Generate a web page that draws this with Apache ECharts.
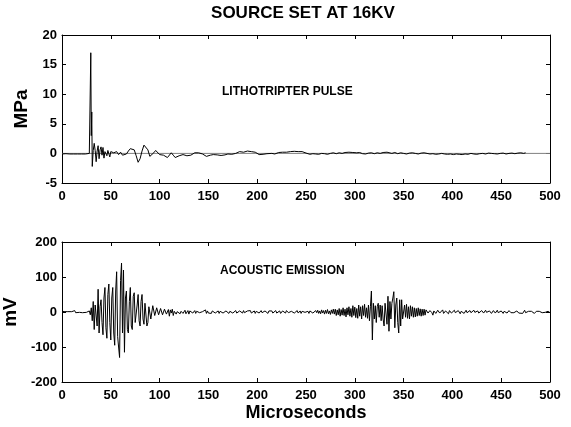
<!DOCTYPE html>
<html>
<head>
<meta charset="utf-8">
<script src="https://cdn.jsdelivr.net/npm/echarts@6/dist/echarts.min.js"></script>
<style>
  html, body { margin: 0; padding: 0; background: #fff; }
  #chart { width: 571px; height: 427px; }
</style>
</head>
<body>
<div id="chart"></div>
<script>
// lithotripter pulse, [microseconds, MPa]
var pulseQuiet = [[0,-0.1],[2,-0.1],[4,-0.05],[6,-0.1],[8,-0.1],[10,-0.05],[12,-0.1],[14,-0.1],[16,-0.1],[18,-0.05],[20,-0.1],[22,-0.1],[24,-0.1],[26,-0.05],[28,0]];
var pulseShock = [[29,0.3],[29.5,17],[30,3],[30.5,7],[31,-2.2],[32,0.5],[33,1.7],[34,0.5],[35,-1.4],[36,0.4],[37,1.3],[38,-0.9],[39,0.6],[40,1.1],
  [41,-0.3],[42,1.0],[43,-0.8],[44,0.3],[45,0.6],[46,-0.4],[47,0.5],[48,0.2],[49,-0.6],[50,0.3]];
var pulseRing = [[52,0.4],[53,0.1],[54,-0.1],[55,0.2],[56,0.3],[57,0],[58,-0.2],[60,0.2],[62,-0.3],[64,-0.5],[66,-0.1],[68,0.4],[70,0.8],[72,1.0],[74,0.6],[76,-0.4],[78,-1.5],
  [80,-0.9],[82,0.4],[84,1.4],[86,1.6],[88,0.6],[90,-0.5],[92,-0.6],[94,0.1],[96,0.5],[98,0.3],[100,-0.2],[102,-0.4],[104,-0.3],[106,-0.2],[108,-0.7],
  [110,-0.4],[112,0.1],[113,0.2],[114,-0.3],[116,-0.7],[118,-0.6],[120,-0.4],[122,-0.3],[124,-0.2],[126,-0.3],[128,-0.4],[130,-0.6],[132,-0.3],[134,0.0],
  [136,0.1],[137,-0.1],[138,0.0],[140,0.1],[142,0.0],[144,-0.1],[146,-0.3],[148,-0.5],[150,-0.4],[152,-0.3]];
var pulseTail = [[155,-0.2],[157,-0.35],[159,-0.25],[161,-0.2],[163,-0.35],[165,-0.2],[167,-0.25],[170,-0.1],[172,-0.25],[174,-0.15],[176,-0.1],[178,0],[180,0.15],[182,0.3],[184,0.05],[186,0.2],[188,0.1],
  [190,0.4],[192,0.15],[194,0.3],[196,0.1],[198,0.2],[200,-0.1],[202,-0.2],[204,-0.05],[206,-0.15],[208,-0.2],[210,-0.05],[212,-0.15],[215,0],[218,-0.1],[220,0.05],[222,0.15],[224,0.05],[226,0.2],[228,0.1],[230,0.2],
  [232,0.15],[234,0.3],[236,0.2],[238,0.35],[240,0.25],[242,0.3],[244,0.15],[246,0.3],[248,0.1],[251,0],[254,-0.15],[257,-0.05],[260,-0.1],[263,-0.15],[266,0],[269,-0.05],[272,-0.15],[275,0],
  [278,0.1],[281,-0.05],[284,0.1],[287,0],[290,0.15],[292,0.05],[294,0.2],[296,0],[298,0.15],[300,0],[302,0.1],[305,0.15],[308,-0.05],[311,-0.1],[314,0.05],[317,0.1],[320,-0.05],[323,0.1],
  [326,0],[329,0.15],[331,0.05],[333,0.2],[335,0.05],[338,0],[341,0.15],[344,-0.05],[347,0.1],[350,0],[353,-0.1],[356,0.05],[359,0.1],[362,0],[365,-0.1],[368,0.05],[371,0.1],
  [374,0],[377,-0.1],[380,-0.05],[383,-0.15],[386,-0.1],[389,0],[392,-0.1],[395,-0.15],[398,-0.1],[401,-0.2],[404,-0.1],[407,-0.15],[410,-0.2],[413,-0.1],
  [416,-0.15],[419,0],[422,-0.1],[425,-0.15],[428,-0.05],[431,0],[434,-0.1],[437,0.05],[440,0],[443,-0.05],[446,-0.1],[449,0],[452,0.05],[455,-0.1],[458,0],
  [461,0.05],[464,-0.05],[467,0.05],[470,0.1],[473,0],[475,0.1]];
var zeroRef = [[0,0],[500,0]];

// acoustic emission, [microseconds, mV]
var emisQuiet1 = [[0,2],[2,-1],[3,1],[5,-2],[6,1],[8,-1],[10,1],[11,5],[12,-4],[13,4],[14,-2],[16,1],[18,-1],[20,2],[21,-2],[23,1],[25,-1],[27,2],[28,3]];
var emisBurst1 = [[29,-8],[30,12],[31,-25],[32,30],[33,-50],[34,20],[35,25],[36,-40],[37,65],[38,-60],[39,15],[40,35],[41,-30],[42,-65],[43,40],
  [44,70],[45,-45],[46,-75],[47,50],[48,80],[49,-30],[50,-80],[51,40],[52,70],[53,-60],[54,-95],[55,60],[56,115],[57,-70],[58,-100],[59,-130],
  [60,90],[61,140],[62,-60],[63,120],[64,-115],[65,40],[66,60],[67,-50],[68,-60],[69,30],[70,70],[71,-40],[72,-50],[73,45],[74,55],[75,-30],
  [76,-35],[77,20],[78,50],[79,-25],[80,-40],[81,30],[82,50],[83,-20],[84,-35],[85,25],[86,30],[87,-40],[88,-30],[89,15],[90,20],[91,-20],
  [92,-25],[93,18],[94,18],[95,-10],[96,-15],[97,12],[98,15],[99,-8],[100,-12],[101,10],[102,12],[103,-8],[104,-10],[105,8],[106,10],[107,-6],
  [108,-8],[109,7],[110,-12]];
var emisQuiet2 = [[111,6],[112,-3],[113,8],[114,-10],[115,2],[116,5],[117,-6],[118,1],[120,4],[121,-5],[122,2],[123,6],[124,-4],[125,1],[126,5],[127,-5],[128,-1],[129,4],[130,-6],
  [131,3],[132,-2],[133,5],[134,-3],[135,1],[136,4],[137,-4],[138,2],[139,-3],[140,5],[141,-2],[142,3],[143,-4],[144,1],[145,4],[146,-2],[147,6],[148,-4],[149,3],[150,-3],
  [152,2],[153,-4],[154,3],[155,-1],[156,4],[157,-3],[158,1],[159,-2],[160,3],[161,-4],[162,2],[163,-1],[164,4],[165,-3],[166,2],[167,-4],[168,3],[169,-1],[170,3],
  [171,-4],[172,2],[173,-2],[174,4],[175,-3],[176,1],[177,-2],[178,4],[179,-3],[180,2],[181,-4],[182,3],[183,-1],[184,2],[185,-3],[186,4],[187,-2],[188,1],[189,-3],[190,3],
  [192,-2],[193,4],[194,-3],[195,2],[196,-1],[197,3],[198,-4],[199,2],[200,-2],[201,3],[202,-3],[203,1],[204,4],[205,-2],[206,2],[207,-3],[208,3],[209,-1],[210,2],
  [211,-4],[212,3],[213,-2],[214,1],[215,3],[216,-3],[217,2],[218,-1],[219,4],[220,-3],[221,2],[222,-2],[223,3],[224,-4],[225,1],[226,3],[227,-2],[228,2],[229,-3],[230,4],
  [232,-2],[233,3],[234,-4],[235,2],[236,-1],[237,3],[238,-3],[239,2],[240,-2],[241,4],[242,-3],[243,1],[244,3],[245,-4],[246,2],[247,-2],[248,3],[249,-1],[250,4],
  [251,-3],[252,2],[253,-4],[254,3],[255,-2],[256,4],[257,-3],[258,1],[259,-5],[260,4],[261,-2],[262,5],[263,-4],[264,3],[265,-5],[266,6],[267,-3],[268,4],[269,-6],[270,5],
  [271,-4],[272,7],[273,-5],[274,3],[275,-7],[276,6],[277,-4],[278,8],[279,-6]];
var emisBurst2 = [[280,8],[281,-10],[282,6],[283,-8],[284,10],[285,-12],[286,7],[287,-9],[288,12],[289,-10],[290,8],[291,-14],[292,12],[293,-8],
  [294,15],[295,-12],[296,10],[297,-15],[298,18],[299,-10],[300,14],[301,-16],[302,10],[303,-18],[304,20],[305,-12],[306,15],[307,-20],[308,18],
  [309,-10],[310,22],[311,-15],[312,12],[313,-18],[314,20],[315,-25],[316,15],[317,60],[318,-80],[319,25],[320,-20],[321,18],[322,-30],[323,15],
  [324,25],[325,-15],[326,20],[327,-25],[328,18],[329,-20],[330,-40],[331,25],[332,30],[333,-35],[334,45],[335,-55],[336,30],[337,-20],[338,25],
  [339,40],[340,58],[341,-45],[342,20],[343,40],[344,-30],[345,-60],[346,35],[347,-40],[348,35],[349,-20],[350,-25],[351,20],[352,-15],[353,22],
  [354,-18],[355,15],[356,-20],[357,18],[358,-12],[359,15],[360,-15],[361,12],[362,-14],[363,10],[364,-12],[365,12],[366,-10],[367,9],[368,-12],
  [369,8],[370,-10],[371,8],[372,-9]];
var emisQuiet3 = [[373,6],[374,10],[375,-3],[376,-8],[377,4],[378,7],[379,-2],[380,-9],[381,3],[382,8],[383,-4],[384,-6],[385,5],[386,10],[387,-3],[388,-7],[389,2],[390,6],
  [391,-4],[392,-8],[393,3],[394,7],[395,-2],[396,-5],[397,4],[398,6],[399,-3],[400,-6],[401,2],[402,5],[403,-2],[404,-6],[405,3],[406,4],[407,-1],[408,-5],[409,2],[410,6],
  [411,-3],[412,-4],[413,1],[414,5],[415,-2],[416,-5],[417,3],[418,4],[419,-2],[420,-6],[421,2],[422,5],[423,-1],[424,-4],[425,2],[426,3],[427,-3],[428,-5],[429,1],[430,4],
  [432,-3],[433,2],[434,5],[435,-1],[436,-4],[437,2],[438,3],[439,-2],[440,-4],[441,1],[442,4],[443,-1],[444,-3],[445,2],[446,5],[447,-2],[448,-4],[449,1],[450,3],
  [452,-4],[453,2],[454,3],[455,-1],[456,-3],[457,2],[458,4],[459,-1],[460,-2],[461,1],[462,3],[463,-2],[464,-4],[465,1],[466,3],[467,-1],[468,-3],[469,2],[470,2],
  [472,-4],[473,1],[474,5],[475,-2],[476,-3],[477,1],[478,2],[479,-1],[480,-3],[481,2],[482,3],[483,-2],[484,-4],[485,1],[486,2],[487,-1],[488,-3],[489,2],[490,4],
  [492,-2],[493,1],[494,3],[495,-1],[496,-3],[497,2],[498,2],[499,-1],[500,-2]];

var pulseData = pulseQuiet.concat(pulseShock, pulseRing, pulseTail);
var emisData = emisQuiet1.concat(emisBurst1, emisQuiet2, emisBurst2, emisQuiet3);

var FONT = 'Liberation Sans, Arial, sans-serif';
var tickLabel = { color: '#000', fontFamily: FONT, fontWeight: 'bold', fontSize: 13 };

function xAx(grid, bottom, name) {
    return {
        type: 'value', gridIndex: grid, min: 0, max: 500, interval: 50,
        position: bottom ? 'bottom' : 'top',
        name: name || '', nameLocation: 'middle', nameGap: 22,
        nameTextStyle: { color: '#000', fontFamily: FONT, fontWeight: 'bold', fontSize: 18 },
        axisLine: { onZero: false, lineStyle: { color: '#000', width: 1 } },
        axisTick: { inside: true, length: 4, lineStyle: { color: '#000' } },
        axisLabel: bottom ? Object.assign({ margin: 7 }, tickLabel) : { show: false },
        splitLine: { show: false }
    };
}
function yAx(grid, left, min, max, step, name) {
    return {
        type: 'value', gridIndex: grid, min: min, max: max, interval: step,
        position: left ? 'left' : 'right',
        name: name || '', nameLocation: 'middle', nameGap: 26,
        nameTextStyle: { color: '#000', fontFamily: FONT, fontWeight: 'bold', fontSize: 19 },
        axisLine: { onZero: false, lineStyle: { color: '#000', width: 1 } },
        axisTick: { inside: true, length: 4, lineStyle: { color: '#000' } },
        axisLabel: left ? Object.assign({ margin: 5 }, tickLabel) : { show: false },
        splitLine: { show: false }
    };
}

var chart = echarts.init(document.getElementById('chart'));
chart.setOption({
    animation: false,
    backgroundColor: '#fff',
    grid: [
        { left: 62, right: 21, top: 35, height: 148, outerBoundsMode: 'none', containLabel: false },
        { left: 62, right: 21, top: 242, height: 140, outerBoundsMode: 'none', containLabel: false }
    ],
    xAxis: [xAx(0, true), xAx(0, false), xAx(1, true, 'Microseconds'), xAx(1, false)],
    yAxis: [yAx(0, true, -5, 20, 5, 'MPa'), yAx(0, false, -5, 20, 5), yAx(1, true, -200, 200, 100, 'mV'), yAx(1, false, -200, 200, 100)],
    graphic: [
        { type: 'text', x: 303, y: 5, style: { text: 'SOURCE SET AT 16KV', fill: '#000', font: 'bold 17px ' + FONT, align: 'center', textAlign: 'center' } },
        { type: 'text', x: 222, y: 86, style: { text: 'LITHOTRIPTER PULSE', fill: '#000', font: 'bold 12px ' + FONT } },
        { type: 'text', x: 220, y: 265, style: { text: 'ACOUSTIC EMISSION', fill: '#000', font: 'bold 12px ' + FONT } }
    ],
    series: [
        { type: 'line', xAxisIndex: 0, yAxisIndex: 0, data: zeroRef, symbol: 'none', z: 1,
          lineStyle: { color: '#808080', width: 1 } },
        { type: 'line', xAxisIndex: 0, yAxisIndex: 0, data: pulseData, symbol: 'none', z: 2,
          lineStyle: { color: '#000', width: 1 } },
        { type: 'line', xAxisIndex: 2, yAxisIndex: 2, data: emisData, symbol: 'none', z: 2,
          lineStyle: { color: '#000', width: 1 } }
    ]
});
</script>
</body>
</html>
